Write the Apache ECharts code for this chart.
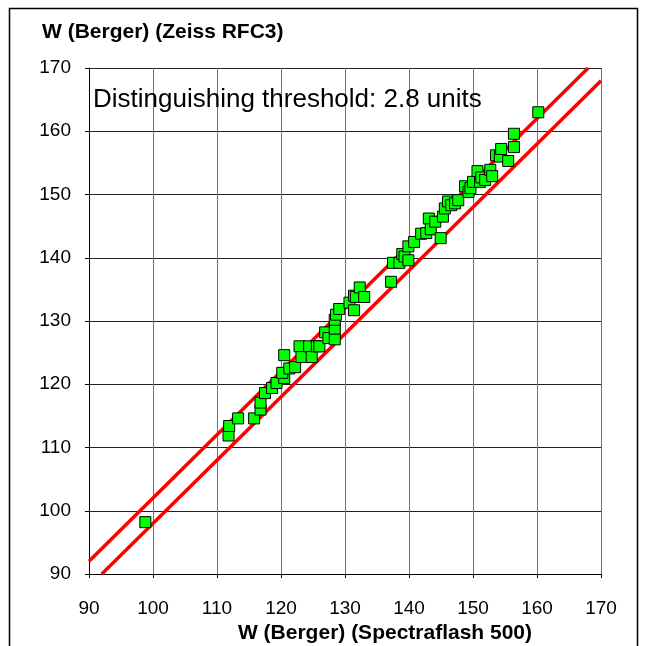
<!DOCTYPE html>
<html><head><meta charset="utf-8">
<script src="https://cdn.jsdelivr.net/npm/echarts@6/dist/echarts.min.js"></script>
<style>html,body{margin:0;padding:0;background:#fff}#c{width:647px;height:646px}</style>
</head><body><div id="c"></div>
<script>
const xTicks = [90,100,110,120,130,140,150,160,170];
const spectraflash = [98.8,111.8,111.9,113.3,115.8,116.8,116.8,117.5,118.6,119.3,120.5,120.2,120.5,121.3,122.2,122.9,123.2,124.4,124.8,125.6,126.0,126.9,127.4,128.4,128.4,128.4,128.6,129.1,130.7,131.4,131.4,131.7,132.3,133.0,137.2,137.5,138.5,138.95,139.3,139.9,139.9,140.8,141.9,142.7,143.1,143.4,144.1,144.95,145.3,145.6,146.1,146.6,147.2,147.7,148.75,149.3,149.6,150.0,150.7,151.1,151.3,151.9,152.7,153.0,153.6,154.2,154.4,155.5,156.4,156.4,160.2];
const zeissRFC3 = [98.2,111.9,113.4,114.6,114.6,116.0,117.1,118.6,119.4,120.2,121.0,121.8,124.6,122.5,122.7,126.0,124.3,126.0,124.3,126.0,126.0,128.2,127.3,127.1,128.8,130.2,131.0,131.9,132.9,134.0,131.7,133.8,135.3,133.8,136.2,139.2,139.2,140.6,140.2,141.8,139.6,142.5,143.8,143.9,146.2,144.5,145.7,143.1,146.5,147.8,148.9,148.3,148.6,149.1,151.3,150.4,151.0,152.0,153.7,152.0,152.7,152.3,153.9,152.9,156.2,156.0,157.2,155.3,157.5,159.6,163.0];
const upperLine = [[90,92],[168,170]];
const lowerLine = [[92,90],[170,168]];
const pts = spectraflash.map((x,i)=>[x, zeissRFC3[i]]);
const chart = echarts.init(document.getElementById('c'));
const font = 'Liberation Sans, Arial, sans-serif';
chart.setOption({
  animation:false,
  backgroundColor:'#fff',
  grid:{left:89,right:46,top:68,bottom:72,outerBoundsMode:'none',containLabel:false},
  xAxis:{type:'value',min:90,max:170,interval:10,
    axisLine:{show:true,onZero:false,lineStyle:{color:'#000',width:1}},
    axisTick:{show:true,length:4,lineStyle:{color:'#000'}},
    axisLabel:{color:'#000',fontSize:19,fontFamily:font,margin:25},
    splitLine:{show:true,lineStyle:{color:'#707070',width:1}},
    name:'W (Berger) (Spectraflash 500)',nameLocation:'middle',nameGap:48,
    nameTextStyle:{color:'#000',fontSize:21,fontWeight:'bold',fontFamily:font,padding:[0,0,0,80]}
  },
  yAxis:{type:'value',min:90,max:170,interval:10,
    axisLine:{show:true,onZero:false,lineStyle:{color:'#000',width:1}},
    axisTick:{show:true,length:4,lineStyle:{color:'#000'}},
    axisLabel:{color:'#000',fontSize:19,fontFamily:font,margin:18},
    splitLine:{show:true,lineStyle:{color:'#202020',width:1}}
  },
  graphic:[
    {type:'rect',shape:{x:9.5,y:8.5,width:628,height:700},style:{fill:null,stroke:'#000',lineWidth:1.5},z:-10,silent:true},
    {type:'text',left:42,top:22,style:{text:'W (Berger) (Zeiss RFC3)',font:'bold 21px '+font,fill:'#000'}},
    {type:'text',left:93,top:87,style:{text:'Distinguishing threshold: 2.8 units',font:'26px '+font,fill:'#000'},z:50}
  ],
  series:[
    {type:'line',data:upperLine,symbol:'none',lineStyle:{color:'#ff0000',width:3.5},z:3},
    {type:'line',data:lowerLine,symbol:'none',lineStyle:{color:'#ff0000',width:3.5},z:3},
    {type:'scatter',data:pts,symbol:'rect',symbolSize:11,
      itemStyle:{color:'#00ff00',borderColor:'#000',borderWidth:1,opacity:1},z:5}
  ]
});
</script></body></html>
